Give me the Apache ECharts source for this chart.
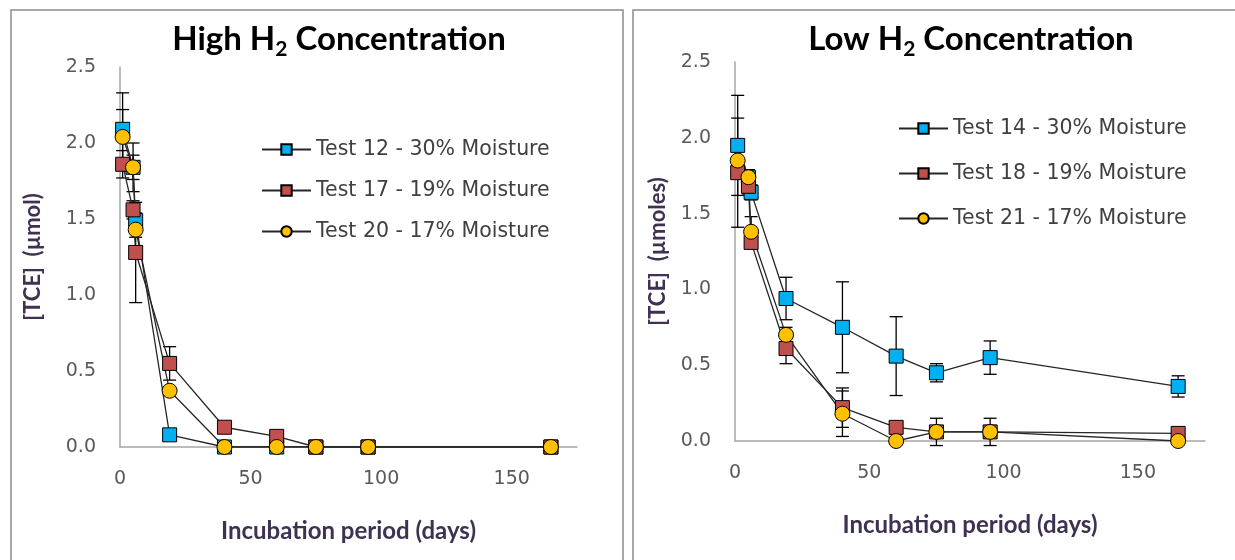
<!DOCTYPE html>
<html>
<head>
    <meta charset="utf-8">
    <title>TCE Concentration</title>
    <script src="https://cdn.jsdelivr.net/npm/echarts@6/dist/echarts.min.js"></script>
    <style>
        html, body { margin: 0; padding: 0; background: #fff; }
    </style>
</head>
<body>
<div id="main" style="width: 1235px;height:560px;"></div>
<script type="text/javascript">
    // incubation days (same sampling for both panels)
    var days = [1, 5, 6, 19, 40, 60, 75, 95, 165];
    var xTicks = [0, 50, 100, 150];

    // High H2 panel
    var test12 = [2.09, 1.84, 1.49, 0.08, 0.00, 0.00, 0.00, 0.00, 0.00];
    var test12Err = [0.24, 0.16, 0.05, 0.02, 0.00, 0.00, 0.00, 0.00, 0.00];
    var test17 = [1.86, 1.56, 1.28, 0.55, 0.13, 0.07, 0.00, 0.00, 0.00];
    var test17Err = [0.09, 0.06, 0.33, 0.11, 0.02, 0.01, 0.00, 0.00, 0.00];
    var test20 = [2.04, 1.84, 1.43, 0.37, 0.00, 0.00, 0.00, 0.00, 0.00];
    var test20Err = [0.18, 0.08, 0.05, 0.02, 0.00, 0.00, 0.00, 0.00, 0.00];

    // Low H2 panel
    var test14 = [1.95, 1.74, 1.64, 0.94, 0.75, 0.56, 0.45, 0.55, 0.36];
    var test14Err = [0.33, 0.05, 0.05, 0.14, 0.30, 0.26, 0.06, 0.11, 0.07];
    var test18 = [1.77, 1.68, 1.31, 0.61, 0.22, 0.09, 0.06, 0.06, 0.05];
    var test18Err = [0.36, 0.05, 0.04, 0.10, 0.13, 0.02, 0.02, 0.02, 0.01];
    var test21 = [1.85, 1.74, 1.38, 0.70, 0.18, 0.00, 0.06, 0.06, 0.00];
    var test21Err = [0.10, 0.03, 0.10, 0.05, 0.15, 0.00, 0.09, 0.09, 0.00];

    var names = ['Test 12 - 30% Moisture', 'Test 17 - 19% Moisture', 'Test 20 - 17% Moisture',
                 'Test 14 - 30% Moisture', 'Test 18 - 19% Moisture', 'Test 21 - 17% Moisture'];

    var BLUE = '#00b0f0', RED = '#c0504d', YELLOW = '#ffc000';
    var TICK_FONT = 'DejaVu Sans';
    var TITLE_FONT = 'Lato';

    function pairs(vals) {
        return days.map(function (d, i) { return [d, vals[i]]; });
    }
    function errData(vals, errs) {
        return days.map(function (d, i) { return [d, vals[i] - errs[i], vals[i] + errs[i]]; });
    }

    function lineSeries(name, vals, color, symbol, idx) {
        return {
            name: name,
            type: 'line',
            xAxisIndex: idx,
            yAxisIndex: idx,
            data: pairs(vals),
            symbol: symbol,
            symbolSize: symbol === 'circle' ? 15 : 14,
            showSymbol: true,
            lineStyle: {color: '#262626', width: 1.3},
            itemStyle: {color: color, borderColor: '#000', borderWidth: 1},
            z: 3
        };
    }

    function errorSeries(vals, errs, idx) {
        return {
            type: 'custom',
            xAxisIndex: idx,
            yAxisIndex: idx,
            data: errData(vals, errs),
            z: 2,
            silent: true,
            renderItem: function (params, api) {
                if (api.value(2) - api.value(1) <= 0) return null;
                var lo = api.coord([api.value(0), api.value(1)]);
                var hi = api.coord([api.value(0), api.value(2)]);
                var w = 6.5;
                var style = {stroke: '#000', lineWidth: 1.3};
                return {
                    type: 'group',
                    children: [
                        {type: 'line', shape: {x1: lo[0], y1: lo[1], x2: hi[0], y2: hi[1]}, style: style},
                        {type: 'line', shape: {x1: lo[0] - w, y1: lo[1], x2: lo[0] + w, y2: lo[1]}, style: style},
                        {type: 'line', shape: {x1: hi[0] - w, y1: hi[1], x2: hi[0] + w, y2: hi[1]}, style: style}
                    ]
                };
            }
        };
    }

    function xAxis(idx) {
        return {
            type: 'value',
            gridIndex: idx,
            min: 0,
            max: 175,
            interval: 50,
            name: 'Incubation period (days)',
            nameLocation: 'middle',
            nameGap: 72,
            nameTextStyle: {color: '#3f3151', fontFamily: TITLE_FONT, fontWeight: 'bold', fontSize: 24},
            axisLine: {lineStyle: {color: '#a6a6a6', width: 1.5}},
            axisTick: {show: false},
            splitLine: {show: false},
            axisLabel: {
                color: '#595959', fontFamily: TICK_FONT, fontSize: 19, margin: 23,
                formatter: function (v) { return xTicks.indexOf(v) >= 0 ? String(v) : ''; }
            }
        };
    }

    function yAxis(idx, name, gap) {
        return {
            type: 'value',
            gridIndex: idx,
            min: 0,
            max: 2.5,
            interval: 0.5,
            name: name,
            nameLocation: 'middle',
            nameGap: gap,
            nameTextStyle: {color: '#3f3151', fontFamily: TITLE_FONT, fontWeight: 'bold', fontSize: 22},
            axisLine: {show: true, lineStyle: {color: '#a6a6a6', width: 1.5}},
            axisTick: {show: false},
            splitLine: {show: false},
            axisLabel: {
                color: '#595959', fontFamily: TICK_FONT, fontSize: 19, margin: 24,
                formatter: function (v) { return v.toFixed(1); }
            }
        };
    }

    function legend(data, left, top, gap) {
        return {
            data: data,
            orient: 'vertical',
            left: left,
            top: top,
            itemWidth: 49,
            itemHeight: 13,
            itemGap: gap,
            textStyle: {color: '#404040', fontFamily: TICK_FONT, fontSize: 20.5}
        };
    }

    var titleRich = {
        main: {fontFamily: TITLE_FONT, fontWeight: 'bold', fontSize: 33, color: '#000', lineHeight: 42},
        sub: {fontFamily: TITLE_FONT, fontWeight: 'bold', fontSize: 21, color: '#000', lineHeight: 20, verticalAlign: 'bottom'}
    };

    var myChart = echarts.init(document.getElementById('main'), null, {renderer: 'canvas'});

    var option = {
        animation: false,
        backgroundColor: '#fff',
        title: [
            {text: '{main|High H}{sub|2}{main| Concentration}', left: 334, top: 13, textAlign: 'center',
             textStyle: {rich: titleRich}},
            {text: '{main|Low H}{sub|2}{main| Concentration}', left: 966, top: 13, textAlign: 'center',
             textStyle: {rich: titleRich}}
        ],
        graphic: [
            {type: 'rect', shape: {x: 11, y: 10, width: 612, height: 560}, style: {fill: 'none', stroke: '#8c8c8c', lineWidth: 1.5}},
            {type: 'rect', shape: {x: 633, y: 10, width: 612, height: 560}, style: {fill: 'none', stroke: '#8c8c8c', lineWidth: 1.5}}
        ],
        grid: [
            {left: 120, top: 67, width: 457, height: 380},
            {left: 735, top: 62, width: 470, height: 379}
        ],
        xAxis: [xAxis(0), xAxis(1)],
        yAxis: [yAxis(0, '[TCE]  (µmol)', 76), yAxis(1, '[TCE]  (µmoles)', 66)],
        legend: [
            legend(names.slice(0, 3), 256, 134, 20),
            legend(names.slice(3, 6), 893, 113, 24)
        ],
        series: [
            errorSeries(test12, test12Err, 0),
            errorSeries(test17, test17Err, 0),
            errorSeries(test20, test20Err, 0),
            lineSeries(names[0], test12, BLUE, 'rect', 0),
            lineSeries(names[1], test17, RED, 'rect', 0),
            lineSeries(names[2], test20, YELLOW, 'circle', 0),
            errorSeries(test14, test14Err, 1),
            errorSeries(test18, test18Err, 1),
            errorSeries(test21, test21Err, 1),
            lineSeries(names[3], test14, BLUE, 'rect', 1),
            lineSeries(names[4], test18, RED, 'rect', 1),
            lineSeries(names[5], test21, YELLOW, 'circle', 1)
        ]
    };

    myChart.setOption(option);
</script>
</body>
</html>
